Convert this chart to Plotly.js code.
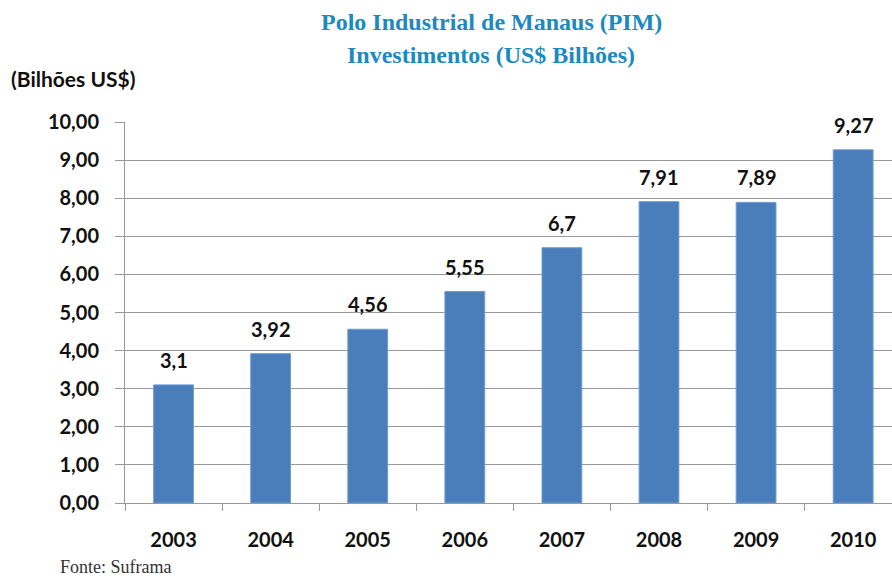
<!DOCTYPE html>
<html>
<head>
<meta charset="utf-8">
<script src="https://cdn.plot.ly/plotly-3.0.1.min.js"></script>
<style>html,body{margin:0;padding:0;background:#fff;}#chart{width:892px;height:580px;}</style>
</head>
<body>
<div id="chart"></div>
<script>
const years = ["2003","2004","2005","2006","2007","2008","2009","2010"];
const values = [3.1, 3.92, 4.56, 5.55, 6.7, 7.91, 7.89, 9.27];
const valueLabels = ["3,1","3,92","4,56","5,55","6,7","7,91","7,89","9,27"];
const yTickVals = [0,1,2,3,4,5,6,7,8,9,10];
const titleLines = ["Polo Industrial de Manaus (PIM)", "Investimentos (US$ Bilhões)"];
const yLabel = "(Bilhões US$)";
const sourceText = "Fonte: Suframa";

const W = 892, H = 580;
const mL = 125, mR = 0, mT = 122, mB = 77;
const pw = W - mL - mR, ph = H - mT - mB;
const px = x => (x - mL) / pw;
const py = y => (H - mB - y) / ph;

const sansBold = "Lato, 'Open Sans', sans-serif";

const annotations = values.map((v, i) => ({
  x: i, y: v, xref: 'x', yref: 'y',
  text: '<b>' + valueLabels[i] + '</b>',
  showarrow: false, yanchor: 'bottom', yshift: 11,
  font: {family: sansBold, size: 20, color: '#111'}
}));
const titleY = [22, 55];
titleLines.forEach((t, i) => annotations.push({
  x: px(491), y: py(titleY[i]), xref: 'paper', yref: 'paper',
  xanchor: 'center', yanchor: 'middle', showarrow: false,
  text: '<b>' + t + '</b>',
  font: {family: "'Liberation Serif', serif", size: 24, color: '#1b8ac0'}
}));
annotations.push({
  x: px(9), y: py(78), xref: 'paper', yref: 'paper',
  xanchor: 'left', yanchor: 'middle', showarrow: false,
  text: '<b>' + yLabel + '</b>',
  font: {family: sansBold, size: 21, color: '#111'}
});
annotations.push({
  x: px(58), y: py(567), xref: 'paper', yref: 'paper',
  xanchor: 'left', yanchor: 'middle', showarrow: false,
  text: sourceText,
  font: {family: "'Liberation Serif', serif", size: 18, color: '#333'}
});

const data = [{
  type: 'bar', x: years, y: values,
  marker: {color: '#4a7ebb', line: {color: '#6f9bd4', width: 1}},
  hoverinfo: 'none'
}];

const layout = {
  width: W, height: H,
  margin: {l: mL, r: mR, t: mT, b: mB, pad: 0},
  paper_bgcolor: '#fff', plot_bgcolor: '#fff',
  separators: ',.',
  showlegend: false,
  bargap: 0.59,
  xaxis: {
    type: 'category', range: [-0.5, 7.4],
    showline: true, linecolor: '#999', linewidth: 1,
    ticks: 'outside', tickson: 'boundaries', ticklen: 7, tickcolor: '#999',
    showgrid: false, zeroline: false,
    ticklabelstandoff: 19,
    tickfont: {family: sansBold, size: 20, color: '#111', weight: 'bold'}
  },
  yaxis: {
    range: [0, 10], tickvals: yTickVals, tickformat: '.2f',
    showline: true, linecolor: '#999', linewidth: 1,
    ticks: 'outside', ticklen: 9, tickcolor: '#999',
    showgrid: true, gridcolor: '#999', gridwidth: 1, zeroline: false,
    ticklabelstandoff: 12,
    tickfont: {family: sansBold, size: 20, color: '#111', weight: 'bold'}
  },
  annotations: annotations
};

Plotly.newPlot('chart', data, layout, {displayModeBar: false, staticPlot: true});
</script>
</body>
</html>
